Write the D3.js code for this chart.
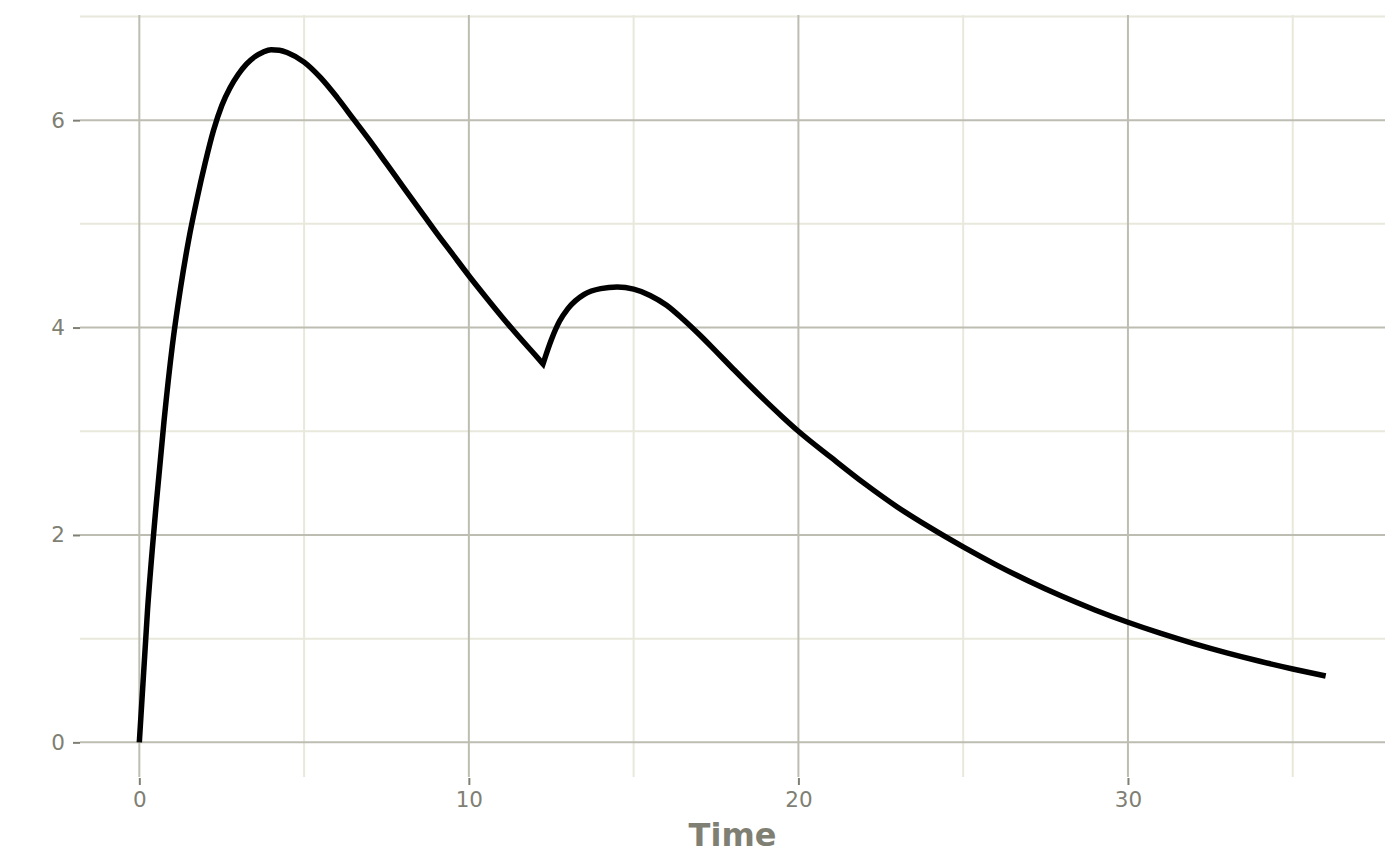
<!DOCTYPE html>
<html>
<head>
<meta charset="utf-8">
<script src="https://cdn.jsdelivr.net/npm/d3@7"></script>
<style>
  html, body { margin: 0; padding: 0; background: #fff; }
  svg { display: block; font-family: "DejaVu Sans", sans-serif; }
</style>
</head>
<body>
<svg width="1400" height="865"></svg>
<script>
const time = [0, 0.25, 0.5, 0.75, 1, 1.25, 1.5, 1.75, 2, 2.25, 2.5, 2.75, 3, 3.25, 3.5, 3.75, 4, 4.25, 4.5,
  5, 5.5, 6, 6.5, 7, 7.5, 8, 8.5, 9, 9.5, 10, 10.5, 11, 11.5, 12, 12.25,
  12.5, 12.75, 13, 13.5, 14, 14.5, 15, 15.5, 16, 16.5, 17, 17.5, 18, 18.5, 19, 19.5, 20,
  21, 22, 23, 24, 25, 26, 27, 28, 29, 30, 31, 32, 33, 34, 35, 36];
const conc = [0, 1.28, 2.25, 3.1, 3.82, 4.38, 4.85, 5.24, 5.59, 5.9, 6.14, 6.31, 6.44, 6.54, 6.61, 6.655, 6.68, 6.675, 6.65,
  6.56, 6.41, 6.22, 6.01, 5.8, 5.58, 5.36, 5.14, 4.92, 4.71, 4.5, 4.3, 4.105, 3.918, 3.74, 3.65,
  3.88, 4.06, 4.18, 4.32, 4.375, 4.39, 4.37, 4.31, 4.215, 4.08, 3.93, 3.77, 3.608, 3.448, 3.293, 3.143, 3.0,
  2.745, 2.497, 2.27, 2.07, 1.885, 1.712, 1.553, 1.408, 1.277, 1.158, 1.05, 0.952, 0.863, 0.782, 0.708, 0.64];
const doseTimes = [0, 12.25];

const xMajor = [0, 10, 20, 30];
const xMinor = [5, 15, 25, 35];
const yMajor = [0, 2, 4, 6];
const yMinor = [1, 3, 5, 7];

const data = time.map((t, i) => ({ t: t, c: conc[i] }));

// one piece per dosing interval so the smoothing keeps the corner at the second dose
const pieces = doseTimes.map((d, i) => {
  const end = i + 1 < doseTimes.length ? doseTimes[i + 1] : Infinity;
  return data.filter(p => p.t >= d && p.t <= end);
});

const svg = d3.select("svg");
const pLeft = 80, pRight = 1385, pTop = 15, pBottom = 777;

// ggplot-style 5% expansion of the data range
function expand(ext) {
  const pad = (ext[1] - ext[0]) * 0.05;
  return [ext[0] - pad, ext[1] + pad];
}

const x = d3.scaleLinear().domain(expand(d3.extent(time))).range([pLeft, pRight]);
const y = d3.scaleLinear().domain(expand(d3.extent(conc))).range([pBottom, pTop]);

const minorCol = "#e8e8dc";
const majorCol = "#bdbdb2";
const textCol = "#7f7f74";

const grid = svg.append("g").attr("stroke-width", 2);

grid.selectAll("line.ymin")
  .data(yMinor)
  .join("line")
  .attr("stroke", minorCol)
  .attr("x1", pLeft).attr("x2", pRight)
  .attr("y1", d => y(d)).attr("y2", d => y(d));

grid.selectAll("line.xmin")
  .data(xMinor)
  .join("line")
  .attr("stroke", minorCol)
  .attr("y1", pTop).attr("y2", pBottom)
  .attr("x1", d => x(d)).attr("x2", d => x(d));

grid.selectAll("line.ymaj")
  .data(yMajor)
  .join("line")
  .attr("stroke", majorCol)
  .attr("x1", pLeft).attr("x2", pRight)
  .attr("y1", d => y(d)).attr("y2", d => y(d));

grid.selectAll("line.xmaj")
  .data(xMajor)
  .join("line")
  .attr("stroke", majorCol)
  .attr("y1", pTop).attr("y2", pBottom)
  .attr("x1", d => x(d)).attr("x2", d => x(d));

// axes
const xAxis = svg.append("g")
  .attr("transform", `translate(0,${pBottom + 1})`)
  .call(d3.axisBottom(x).tickValues(xMajor).tickSize(7).tickPadding(7));

const yAxis = svg.append("g")
  .attr("transform", `translate(${pLeft},0)`)
  .call(d3.axisLeft(y).tickValues(yMajor).tickSize(7).tickPadding(8));

[xAxis, yAxis].forEach(a => {
  a.select(".domain").remove();
  a.selectAll(".tick line").attr("stroke", textCol).attr("stroke-width", 2);
  a.selectAll(".tick text")
    .attr("fill", textCol)
    .style("font-size", "21.5px")
    .style("font-family", "DejaVu Sans, sans-serif");
});

svg.append("text")
  .attr("x", (pLeft + pRight) / 2)
  .attr("y", 846)
  .attr("text-anchor", "middle")
  .attr("fill", textCol)
  .style("font-size", "32px")
  .style("font-weight", "bold")
  .text("Time");

// concentration curve: smooth pieces joined into a single path
const line = d3.line()
  .curve(d3.curveMonotoneX)
  .x(d => x(d.t))
  .y(d => y(d.c));

const pathD = pieces.map((p, i) => i === 0 ? line(p) : line(p).replace(/^M/, "L")).join("");

svg.append("path")
  .attr("fill", "none")
  .attr("stroke", "#000")
  .attr("stroke-width", 5.5)
  .attr("stroke-linejoin", "miter")
  .attr("stroke-linecap", "butt")
  .attr("d", pathD);
</script>
</body>
</html>
